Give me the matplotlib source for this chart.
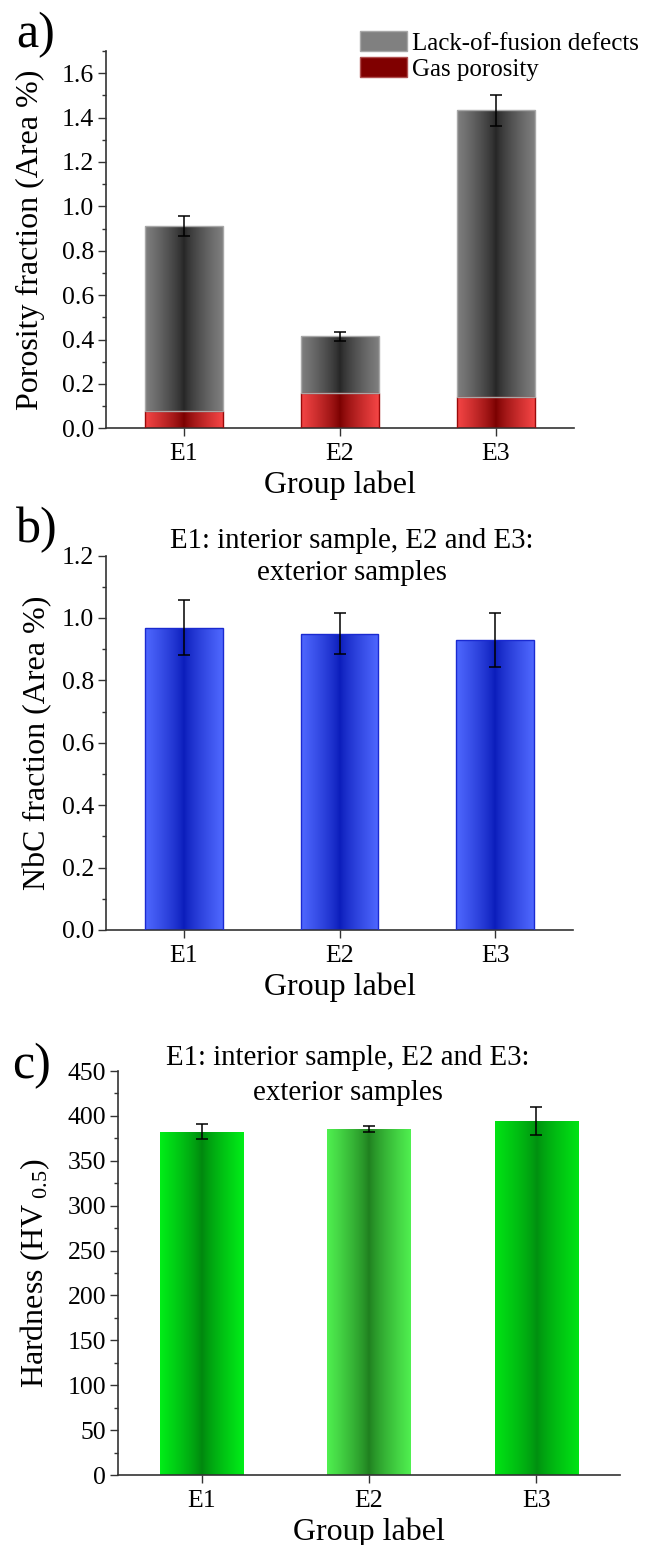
import numpy as np
import matplotlib
matplotlib.use("Agg")
import matplotlib.pyplot as plt
import matplotlib.transforms as mtransforms
from matplotlib.patches import Patch
from matplotlib.ticker import MultipleLocator

plt.rcParams['font.family'] = ['Liberation Serif', 'DejaVu Serif']
plt.rcParams['mathtext.fontset'] = 'custom'
plt.rcParams['mathtext.rm'] = 'Liberation Serif'
plt.rcParams['mathtext.it'] = 'Liberation Serif:italic'

# ---------------- data ----------------
groups = ["E1", "E2", "E3"]

# panel a: porosity (stacked)
gas_porosity = [0.08, 0.16, 0.14]
lof_defects = [0.83, 0.254, 1.292]
porosity_err = [0.045, 0.021, 0.07]

# panel b: NbC fraction
nbc_fraction = [0.969, 0.950, 0.929]
nbc_err = [0.089, 0.066, 0.086]

# panel c: hardness
hardness = [382.5, 385.6, 394.1]
hardness_err = [8.3, 3.3, 15.6]

title_lines = ["E1: interior sample, E2 and E3:", "exterior samples"]

W, H = 660, 1545
fig = plt.figure(figsize=(W / 100, H / 100), dpi=100)


def fx(px):
    return px / W


def fy(py):
    return 1 - py / H


def make_ax(l, r, t, b):
    return fig.add_axes([fx(l), fy(b), fx(r) - fx(l), fy(t) - fy(b)])


ax_a = make_ax(106, 574, 51, 428.3)
ax_b = make_ax(106, 573, 555.5, 930)
ax_c = make_ax(118, 620, 1071, 1475)

x = np.arange(1, len(groups) + 1)


def gradient(ax, bars, light, dark, power=0.9):
    light = np.array(matplotlib.colors.to_rgb(light))
    dark = np.array(matplotlib.colors.to_rgb(dark))
    t = np.linspace(0, 1, 300)
    prof = np.abs(2 * t - 1) ** power
    cols = dark[None, :] + (light - dark)[None, :] * prof[:, None]
    img = cols[None, :, :]
    for b in bars:
        x0, y0 = b.get_x(), b.get_y()
        w, h = b.get_width(), b.get_height()
        im = ax.imshow(img, extent=[x0, x0 + w, y0, y0 + h], aspect='auto',
                       origin='lower', interpolation='bilinear', zorder=2)
        im.set_clip_path(b)


def style(ax, ylim, major, minor):
    ax.set_xlim(0.5, 3.5)
    ax.set_ylim(*ylim)
    ax.set_aspect('auto')
    for s in ['top', 'right']:
        ax.spines[s].set_visible(False)
    for s in ['left', 'bottom']:
        ax.spines[s].set_color('#333333')
        ax.spines[s].set_linewidth(1.2)
    ax.yaxis.set_major_locator(MultipleLocator(major))
    ax.yaxis.set_minor_locator(MultipleLocator(minor))
    ax.set_xticks(x)
    ax.set_xticklabels(groups)
    ax.tick_params(axis='both', which='major', direction='out', length=5.5,
                   width=1.0, color='#333333', labelsize=18.5, pad=3)
    ax.tick_params(axis='x', which='major', pad=5)
    ax.tick_params(axis='y', which='minor', direction='out', length=3,
                   width=1.0, color='#333333')
    ax.tick_params(axis='x', which='minor', bottom=False)
    ax.set_xlabel("Group label", fontsize=23, labelpad=4)


def ylabel(ax, text, right_px):
    ax.set_ylabel(text, fontsize=23)
    tr = mtransforms.blended_transform_factory(fig.transFigure, ax.transAxes)
    ax.yaxis.set_label_coords(fx(right_px), 0.5, transform=tr)


# ---------------- panel a ----------------
bw = 0.5
bars_gas = ax_a.bar(x, gas_porosity, width=bw, color='#f04545', zorder=1)
bars_lof = ax_a.bar(x, lof_defects, width=bw, bottom=gas_porosity,
                    color='#808080', zorder=1)
gradient(ax_a, bars_gas, '#f54545', '#7a0000', 0.8)
gradient(ax_a, bars_lof, '#808080', '#262626', 0.8)
ax_a.bar(x, gas_porosity, width=bw, fill=False, edgecolor='#9a0a0a',
         linewidth=1.0, zorder=3)
ax_a.bar(x, lof_defects, width=bw, bottom=gas_porosity, fill=False,
         edgecolor='#a8a8a8', linewidth=1.0, zorder=3)
totals = np.array(gas_porosity) + np.array(lof_defects)
ax_a.errorbar(x, totals, yerr=porosity_err, fmt='none', ecolor='black',
              elinewidth=1.1, capsize=4, capthick=1.1, zorder=4)
style(ax_a, (0, 1.7), 0.2, 0.1)
ylabel(ax_a, "Porosity fraction (Area %)", 45)
handles = [Patch(facecolor='#808080', edgecolor='#a8a8a8', linewidth=1.0),
           Patch(facecolor='#800000', edgecolor='#b05050', linewidth=1.0)]
ax_a.legend(handles, ["Lack-of-fusion defects", "Gas porosity"],
            loc='upper left', bbox_to_anchor=(fx(360), fy(31)),
            bbox_transform=fig.transFigure, frameon=False, fontsize=18,
            handlelength=1.88, handleheight=0.86, handletextpad=0.18,
            labelspacing=0.1, borderpad=0, borderaxespad=0)

# ---------------- panel b ----------------
bars_b = ax_b.bar(x, nbc_fraction, width=bw, color='#4d66ff', zorder=1)
gradient(ax_b, bars_b, '#4f68ff', '#0a1cba', 0.8)
ax_b.bar(x, nbc_fraction, width=bw, fill=False, edgecolor='#1a2ad0',
         linewidth=1.0, zorder=3)
ax_b.errorbar(x, nbc_fraction, yerr=nbc_err, fmt='none', ecolor='black',
              elinewidth=1.1, capsize=4, capthick=1.1, zorder=4)
style(ax_b, (0, 1.2), 0.2, 0.1)
ylabel(ax_b, "NbC fraction (Area %)", 52)

# ---------------- panel c ----------------
green_light = ['#00ee18', '#50f050', '#00e414']
green_dark = ['#00860e', '#1f7f1f', '#008f10']
bars_c = ax_c.bar(x, hardness, width=bw, color=green_light, zorder=1)
for b, lc, dc in zip(bars_c, green_light, green_dark):
    gradient(ax_c, [b], lc, dc, 0.8)
ax_c.errorbar(x, hardness, yerr=hardness_err, fmt='none', ecolor='black',
              elinewidth=1.1, capsize=4, capthick=1.1, zorder=4)
style(ax_c, (0, 450), 50, 25)
ylabel(ax_c, r"Hardness (HV$_{\mathrm{\ 0.5}}$)", 52)

# ---------------- titles & panel labels ----------------
for cx, y1, y2 in [(352, 548, 580), (348, 1065, 1100)]:
    fig.text(fx(cx), fy(y1), title_lines[0], ha='center', va='baseline',
             fontsize=20.8)
    fig.text(fx(cx), fy(y2), title_lines[1], ha='center', va='baseline',
             fontsize=20.8)

for lab, px, py in [("a)", 16, 46.7), ("b)", 16, 542), ("c)", 12, 1078)]:
    fig.text(fx(px), fy(py), lab, ha='left', va='baseline', fontsize=36)

fig.savefig("out.png", dpi=100)
